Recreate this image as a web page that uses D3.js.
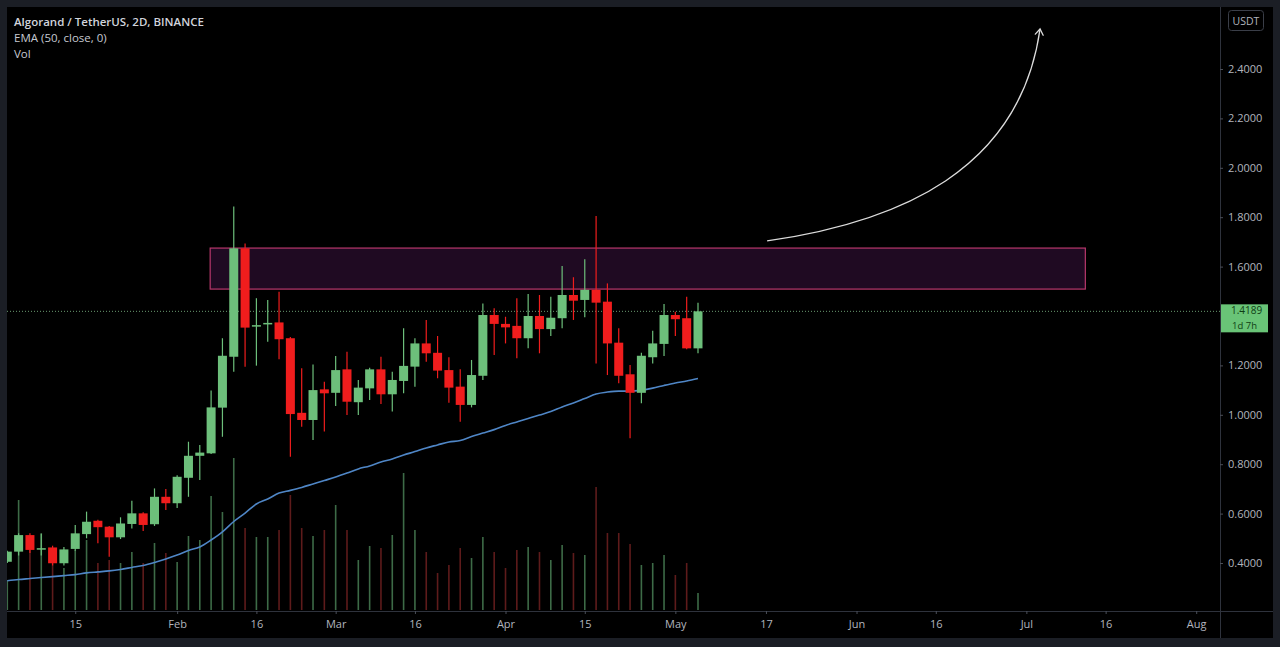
<!DOCTYPE html>
<html>
<head>
<meta charset="utf-8">
<script src="https://cdn.jsdelivr.net/npm/d3@7"></script>
<style>
  html, body { margin: 0; padding: 0; background: #1b1e25; }
  svg { display: block; }
  text { font-family: "Open Sans", "Liberation Sans", sans-serif; }
</style>
</head>
<body>
<svg id="chart" width="1280" height="647"></svg>
<script>
// ---------- DATA ----------
const title = "Algorand / TetherUS, 2D, BINANCE";
const legendLines = ["EMA (50, close, 0)", "Vol"];
const currency = "USDT";
const lastPrice = 1.4189;
const lastPriceCountdown = "1d 7h";

// 2-day candles from 2021-01-03 to 2021-05-05
const firstBar = Date.UTC(2021, 0, 3);
const lastBar = Date.UTC(2021, 4, 5);

const opens = [0.405,0.446,0.513,0.455,0.463,0.399,0.457,0.517,0.571,0.547,0.504,0.558,0.601,0.557,0.668,0.642,
  0.745,0.834,0.844,1.029,1.235,1.674,1.357,1.366,1.374,1.310,1.008,0.979,1.103,1.089,1.184,1.051,1.107,1.184,
  1.083,1.137,1.195,1.289,1.251,1.181,1.114,1.040,1.158,1.404,1.368,1.360,1.310,1.400,1.347,1.391,1.485,1.465,
  1.506,1.458,1.292,1.164,1.089,1.233,1.287,1.404,1.391,1.269];
const highs = [0.450,0.520,0.520,0.517,0.470,0.465,0.554,0.608,0.575,0.550,0.585,0.652,0.605,0.702,0.700,0.755,
  0.891,0.878,1.098,1.310,1.843,1.694,1.472,1.465,1.498,1.315,1.188,1.204,1.134,1.238,1.255,1.141,1.190,1.235,
  1.174,1.350,1.310,1.384,1.319,1.233,1.184,1.222,1.451,1.431,1.397,1.472,1.489,1.485,1.478,1.602,1.557,1.630,
  1.805,1.532,1.350,1.202,1.251,1.340,1.449,1.417,1.478,1.454];
const lows = [0.400,0.430,0.440,0.430,0.390,0.390,0.450,0.500,0.480,0.425,0.497,0.540,0.530,0.550,0.615,0.623,
  0.668,0.736,0.841,0.911,1.174,1.195,1.199,1.296,1.225,0.830,0.952,0.898,0.932,1.036,0.999,0.999,1.060,1.044,
  1.013,1.087,1.114,1.215,1.148,1.049,0.972,1.030,1.141,1.242,1.289,1.229,1.269,1.249,1.319,1.350,1.384,1.395,
  1.208,1.161,1.128,0.905,1.047,1.208,1.238,1.319,1.265,1.249];
const closes = [0.446,0.513,0.453,0.460,0.399,0.455,0.520,0.567,0.545,0.504,0.560,0.601,0.554,0.668,0.642,0.749,
  0.834,0.847,1.030,1.239,1.674,1.353,1.363,1.372,1.306,1.003,0.979,1.100,1.087,1.181,1.053,1.110,1.184,1.083,
  1.141,1.198,1.289,1.249,1.179,1.110,1.040,1.161,1.404,1.368,1.354,1.310,1.400,1.347,1.393,1.485,1.462,1.506,
  1.454,1.289,1.158,1.089,1.239,1.289,1.404,1.387,1.269,1.4189];
const volumes = [30,110,60,77,47,42,60,70,47,50,47,58,47,67,57,48,74,70,114,98,152,82,73,73,80,115,82,74,80,105,
  80,50,64,62,75,137,80,58,37,45,62,52,73,58,42,60,63,58,50,65,57,55,123,77,77,66,45,47,55,35,47,17];
const ema50 = [0.328,0.333,0.337,0.341,0.345,0.349,0.353,0.360,0.364,0.368,0.374,0.382,0.390,0.402,0.416,0.432,
  0.451,0.465,0.493,0.526,0.568,0.602,0.639,0.659,0.683,0.694,0.706,0.720,0.734,0.748,0.764,0.781,0.793,0.809,
  0.821,0.837,0.851,0.866,0.878,0.890,0.896,0.912,0.926,0.940,0.957,0.971,0.985,0.999,1.013,1.032,1.048,1.066,
  1.084,1.092,1.096,1.096,1.100,1.108,1.119,1.129,1.137,1.147];

// 1.4000 is hidden behind the last-price label in the reference
const priceTicks = [0.4,0.6,0.8,1.0,1.2,1.6,1.8,2.0,2.2,2.4];
const timeTickDates = [Date.UTC(2021,0,15),Date.UTC(2021,1,2),Date.UTC(2021,1,16),Date.UTC(2021,2,2),
  Date.UTC(2021,2,16),Date.UTC(2021,3,1),Date.UTC(2021,3,15),Date.UTC(2021,4,1),Date.UTC(2021,4,17),
  Date.UTC(2021,5,2),Date.UTC(2021,5,16),Date.UTC(2021,6,2),Date.UTC(2021,6,16),Date.UTC(2021,7,1)];
const timeTickLabels = ["15","Feb","16","Mar","16","Apr","15","May","17","Jun","16","Jul","16","Aug"];

// resistance zone
const zoneStart = Date.UTC(2021,1,7,20);
const zoneEnd = Date.UTC(2021,6,12,10);
const zoneLow = 1.509, zoneHigh = 1.675;

// projected arrow (cubic curve: start, control1, control2, end)
const arrowDates = [Date.UTC(2021,4,17,5), Date.UTC(2021,5,9,16), Date.UTC(2021,5,30,21), Date.UTC(2021,6,4,10)];
const arrowPrices = [1.704, 1.781, 1.991, 2.562];

// ---------- LAYOUT ----------
const W = 1280, H = 647;
const plot = { left: 7, top: 7, right: 1220, bottom: 611 };
const green = "#6dbf7b", red = "#f01d1d";

const svg = d3.select("#chart");
const barDates = d3.utcDay.range(new Date(firstBar), new Date(lastBar + 86400000), 2);
const bars = barDates.map((d, i) => ({ date: d, o: opens[i], h: highs[i], l: lows[i], c: closes[i], v: volumes[i], ema: ema50[i] }));

const x = d3.scaleUtc().domain([new Date(firstBar), new Date(lastBar)]).range([7.3, 698]);
const y = d3.scaleLinear().domain([0.4, 2.4]).range([563, 69]);
const yVol = d3.scaleLinear().domain([0, 160]).range([610, 450]);

// frame
svg.append("rect").attr("width", W).attr("height", H).attr("fill", "#1b1e25");
svg.append("rect").attr("x", 7).attr("y", 7).attr("width", 1266).attr("height", 631).attr("fill", "#000");

svg.append("defs").append("clipPath").attr("id", "clip")
  .append("rect").attr("x", plot.left).attr("y", plot.top)
  .attr("width", plot.right - plot.left).attr("height", plot.bottom - plot.top);

const g = svg.append("g").attr("clip-path", "url(#clip)");

// volume
g.append("g").selectAll("line").data(bars).join("line")
  .attr("x1", d => x(d.date)).attr("x2", d => x(d.date))
  .attr("y1", yVol(0)).attr("y2", d => yVol(d.v))
  .attr("stroke", d => d.c >= d.o ? "#3d6b47" : "#5e1b1b")
  .attr("stroke-width", 1.6);

// zone rectangle
g.append("rect")
  .attr("x", x(new Date(zoneStart))).attr("y", y(zoneHigh))
  .attr("width", x(new Date(zoneEnd)) - x(new Date(zoneStart)))
  .attr("height", y(zoneLow) - y(zoneHigh))
  .attr("fill", "#1f0a22").attr("stroke", "#b8386c").attr("stroke-width", 1.2);

// EMA
g.append("path").datum(bars)
  .attr("d", d3.line().x(d => x(d.date)).y(d => y(d.ema)).curve(d3.curveMonotoneX))
  .attr("fill", "none").attr("stroke", "#4f86c6").attr("stroke-width", 1.6);

// last price dotted line
g.append("line").attr("x1", plot.left).attr("x2", plot.right)
  .attr("y1", y(lastPrice)).attr("y2", y(lastPrice))
  .attr("stroke", "#6a9a70").attr("stroke-width", 1).attr("stroke-dasharray", "1,2");

// candles
const cg = g.append("g").selectAll("g").data(bars).join("g");
cg.append("line")
  .attr("x1", d => x(d.date)).attr("x2", d => x(d.date))
  .attr("y1", d => y(d.h)).attr("y2", d => y(d.l))
  .attr("stroke", d => d.c >= d.o ? green : red).attr("stroke-width", 1.2);
cg.append("rect")
  .attr("x", d => x(d.date) - 4.5).attr("width", 9)
  .attr("y", d => y(Math.max(d.o, d.c)))
  .attr("height", d => Math.max(1.5, Math.abs(y(d.o) - y(d.c))))
  .attr("fill", d => d.c >= d.o ? green : red);

// arrow
const ap = arrowDates.map((d, i) => [x(new Date(d)), y(arrowPrices[i])]);
const path = d3.path();
path.moveTo(ap[0][0], ap[0][1]);
path.bezierCurveTo(ap[1][0], ap[1][1], ap[2][0], ap[2][1], ap[3][0], ap[3][1]);
g.append("path").attr("d", path.toString()).attr("fill", "none")
  .attr("stroke", "#dcdcdc").attr("stroke-width", 1.3);
const ang = Math.atan2(ap[3][1] - ap[2][1], ap[3][0] - ap[2][0]);
const hl = 7, spread = 0.6;
const head = d3.path();
head.moveTo(ap[3][0] - hl * Math.cos(ang - spread), ap[3][1] - hl * Math.sin(ang - spread));
head.lineTo(ap[3][0], ap[3][1]);
head.lineTo(ap[3][0] - hl * Math.cos(ang + spread), ap[3][1] - hl * Math.sin(ang + spread));
g.append("path").attr("d", head.toString()).attr("fill", "none")
  .attr("stroke", "#dcdcdc").attr("stroke-width", 1.3).attr("stroke-linecap", "round");

// separators
svg.append("line").attr("x1", plot.left).attr("x2", 1273).attr("y1", plot.bottom + 0.5).attr("y2", plot.bottom + 0.5)
  .attr("stroke", "#2e323c").attr("stroke-width", 1);
svg.append("line").attr("x1", plot.right + 0.5).attr("x2", plot.right + 0.5).attr("y1", plot.top).attr("y2", 638)
  .attr("stroke", "#2e323c").attr("stroke-width", 1);

// right price axis
const yAxis = d3.axisRight(y).tickValues(priceTicks).tickFormat(d3.format(".4f")).tickSize(3).tickPadding(5);
const ya = svg.append("g").attr("transform", `translate(${plot.right},0)`).call(yAxis);
ya.select(".domain").remove();
ya.selectAll(".tick line").attr("stroke", "#4a4e58");
ya.selectAll(".tick text").attr("fill", "#b2b5be").style("font-size", "11px");

// bottom time axis
const xAxis = d3.axisBottom(x).tickValues(timeTickDates.map(d => new Date(d)))
  .tickFormat((d, i) => timeTickLabels[i]).tickSize(3).tickPadding(6);
const xa = svg.append("g").attr("transform", `translate(0,${plot.bottom})`).call(xAxis);
xa.select(".domain").remove();
xa.selectAll(".tick line").attr("stroke", "#4a4e58");
xa.selectAll(".tick text").attr("fill", "#b2b5be").style("font-size", "11px");

// USDT badge
svg.append("rect").attr("x", 1228.5).attr("y", 10.5).attr("width", 35).attr("height", 20).attr("rx", 3)
  .attr("fill", "#000").attr("stroke", "#3a3e48");
svg.append("text").attr("x", 1246).attr("y", 24.5).attr("text-anchor", "middle")
  .attr("fill", "#b2b5be").style("font-size", "10.5px").text(currency);

// last price label
const ly = y(lastPrice);
svg.append("rect").attr("x", 1221).attr("y", ly - 7).attr("width", 47).attr("height", 28)
  .attr("fill", "#69c477");
svg.append("text").attr("x", 1231).attr("y", ly + 3).attr("fill", "#0f3d14")
  .style("font-size", "10px").text(d3.format(".4f")(lastPrice));
svg.append("text").attr("x", 1232).attr("y", ly + 17.5).attr("fill", "#0f3d14")
  .style("font-size", "9.5px").text(lastPriceCountdown);

// legend
svg.append("text").attr("x", 14).attr("y", 26).attr("fill", "#d1d4dc")
  .style("font-size", "11.5px").style("font-weight", 600).text(title);
legendLines.forEach((t, i) => {
  svg.append("text").attr("x", 14).attr("y", 42 + i * 16).attr("fill", "#c6c9d1")
    .style("font-size", "11.5px").text(t);
});
</script>
</body>
</html>
